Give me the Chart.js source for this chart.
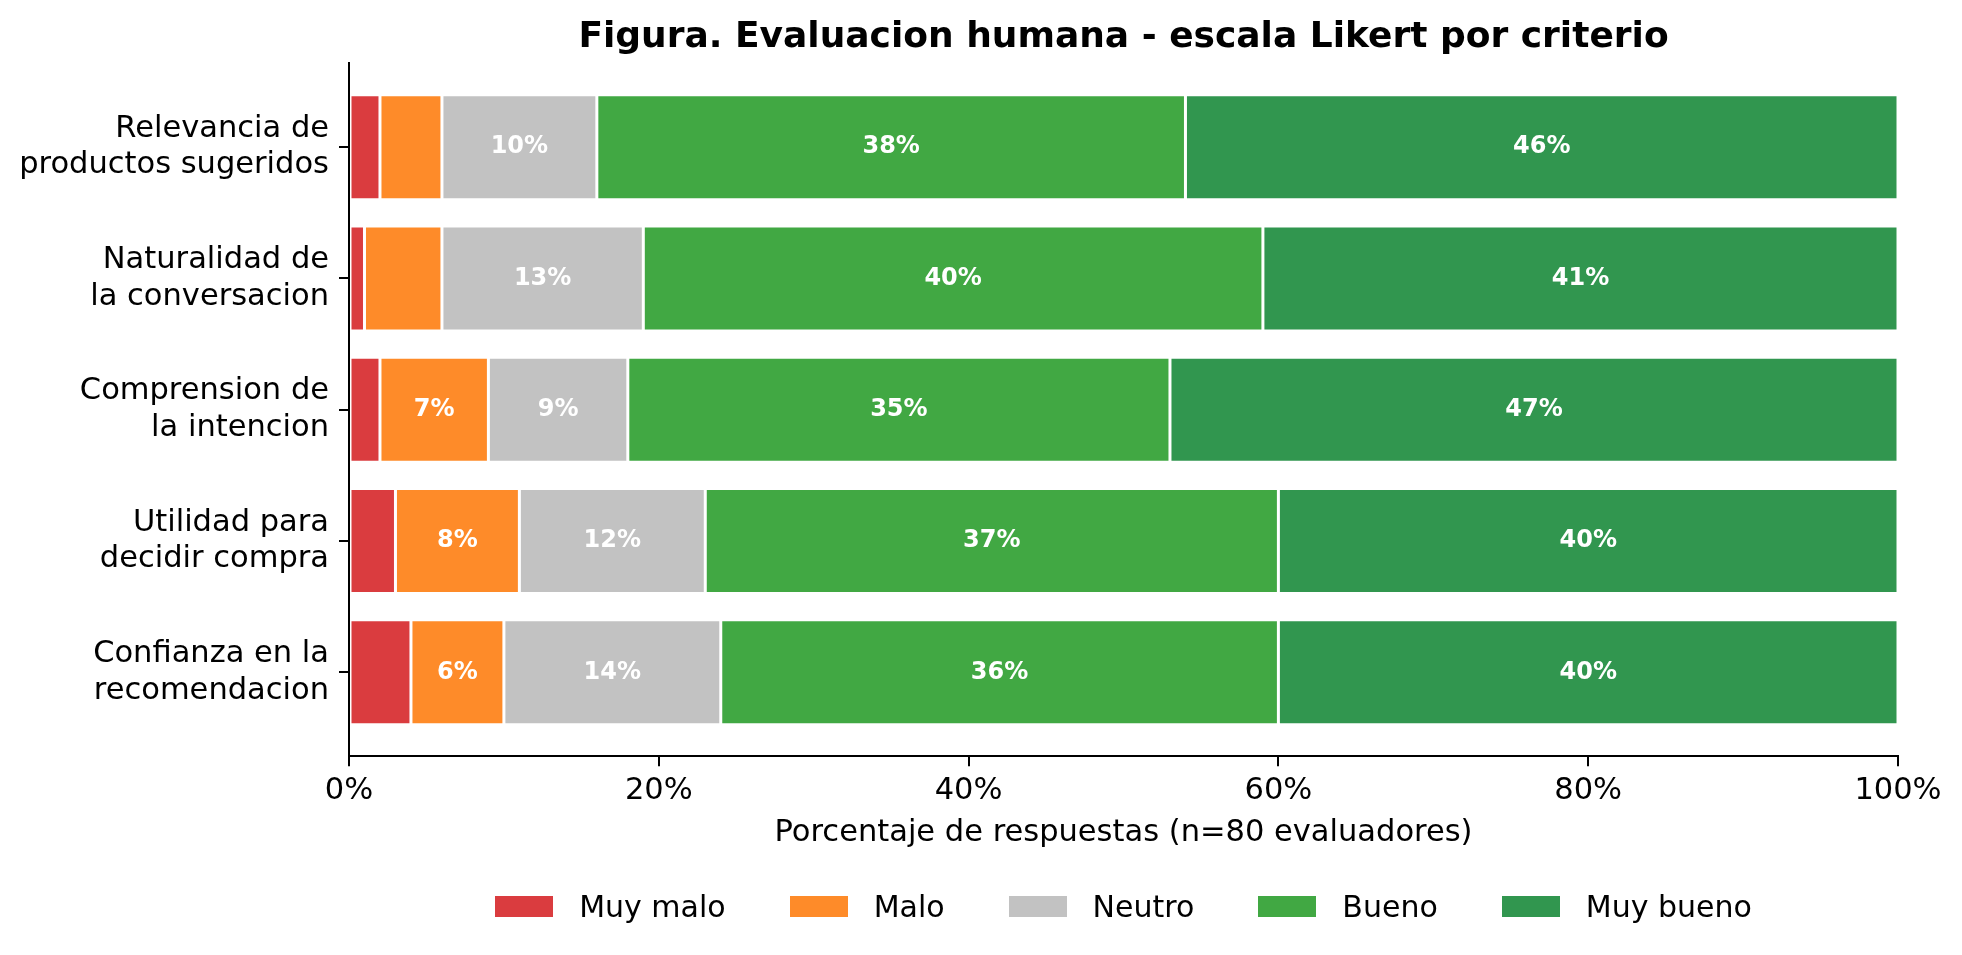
<!DOCTYPE html>
<html>
<head>
<meta charset="utf-8">
<script src="https://cdn.jsdelivr.net/npm/chart.js@4.4.1/dist/chart.umd.min.js"></script>
<style>
  body { margin: 0; background: #fff; }
  #wrap { position: relative; width: 1962px; height: 955px; }
  #legend {
    position: absolute; left: 349px; width: 1549px; top: 885px; height: 42px;
    display: flex; justify-content: center; align-items: center; gap: 64px;
    font-family: 'DejaVu Sans'; font-size: 30px; color: #000;
  }
  .item { display: flex; align-items: center; }
  .box { width: 58px; height: 21px; margin-right: 26px; }
</style>
</head>
<body>
<div id="wrap">
  <canvas id="likert" width="1962" height="955"></canvas>
  <div id="legend"></div>
</div>
<script>
const categories = [
  ['Relevancia de', 'productos sugeridos'],
  ['Naturalidad de', 'la conversacion'],
  ['Comprension de', 'la intencion'],
  ['Utilidad para', 'decidir compra'],
  ['Confianza en la', 'recomendacion']
];
const levels = ['Muy malo', 'Malo', 'Neutro', 'Bueno', 'Muy bueno'];
const muyMalo  = [2, 1, 2, 3, 4];
const malo     = [4, 5, 7, 8, 6];
const neutro   = [10, 13, 9, 12, 14];
const bueno    = [38, 40, 35, 37, 36];
const muyBueno = [46, 41, 47, 40, 40];
const xTicks = [0, 20, 40, 60, 80, 100];
const colors = ['#da3c3f', '#fe8b29', '#c2c2c2', '#41a843', '#31964f'];

Chart.defaults.font.family = "'DejaVu Sans'";
Chart.defaults.color = '#000';

// white % labels inside the wider segments
const barLabels = {
  id: 'barLabels',
  afterDatasetsDraw(chart) {
    const ctx = chart.ctx;
    ctx.save();
    ctx.font = "bold 24px 'DejaVu Sans'";
    ctx.fillStyle = '#fff';
    ctx.textAlign = 'center';
    ctx.textBaseline = 'middle';
    chart.data.datasets.forEach((ds, d) => {
      chart.getDatasetMeta(d).data.forEach((bar, i) => {
        let v = ds.data[i].x;
        if (v <= 5) return;
        let p = bar.getProps(['x', 'base', 'y'], true);
        ctx.fillText(v + '%', (p.x + p.base) / 2, p.y);
      });
    });
    ctx.restore();
  }
};

const series = [muyMalo, malo, neutro, bueno, muyBueno];
let datasets = series.map((vals, k) => ({
  label: levels[k],
  data: vals.map((v, i) => ({x: v, y: i})),
  backgroundColor: colors[k],
  borderColor: '#fff',
  borderWidth: 1.5,
  borderSkipped: false,
  categoryPercentage: 1,
  barPercentage: 0.8
}));

let ctx = document.getElementById('likert');
let chart = new Chart(ctx, {
  type: 'bar',
  data: { datasets: datasets },
  options: {
    indexAxis: 'y',
    responsive: false,
    animation: false,
    devicePixelRatio: 1,
    layout: { padding: { left: 0, right: 64, top: 0, bottom: 99.5 } },
    plugins: {
      legend: { display: false },
      tooltip: { enabled: false },
      title: {
        display: true,
        fullSize: false,
        text: 'Figura. Evaluacion humana - escala Likert por criterio',
        font: { size: 36, weight: 'bold' },
        padding: { top: 16.5, bottom: 3.5 }
      }
    },
    scales: {
      x: {
        type: 'linear',
        stacked: true,
        min: 0,
        max: 100,
        afterBuildTicks: (scale) => { scale.ticks = xTicks.map(v => ({value: v})); },
        ticks: { font: { size: 30.5 }, padding: 6, maxRotation: 0, callback: (v) => v + '%' },
        grid: { display: true, drawOnChartArea: false, drawTicks: true, tickLength: 10, color: '#000', lineWidth: 2 },
        border: { display: true, color: '#000', width: 2 },
        title: { display: true, text: 'Porcentaje de respuestas (n=80 evaluadores)', font: { size: 30.5 }, padding: { top: 0, bottom: 4 } }
      },
      y: {
        type: 'linear',
        stacked: true,
        reverse: true,
        offset: false,
        min: -0.64,
        max: 4.64,
        afterBuildTicks: (scale) => { scale.ticks = categories.map((c, i) => ({value: i})); },
        afterFit: (scale) => { scale.width = 349; },
        ticks: { font: { size: 30.5 }, padding: 10, callback: (v) => categories[v] },
        grid: { display: true, offset: false, drawOnChartArea: false, drawTicks: true, tickLength: 10, color: '#000', lineWidth: 2 },
        border: { display: true, color: '#000', width: 2 }
      }
    }
  },
  plugins: [barLabels]
});

// html legend under the axis
let legendEl = document.getElementById('legend');
levels.forEach((name, k) => {
  let item = document.createElement('div');
  item.className = 'item';
  item.innerHTML = '<span class="box" style="background:' + colors[k] + '"></span><span>' + name + '</span>';
  legendEl.appendChild(item);
});
</script>
</body>
</html>
